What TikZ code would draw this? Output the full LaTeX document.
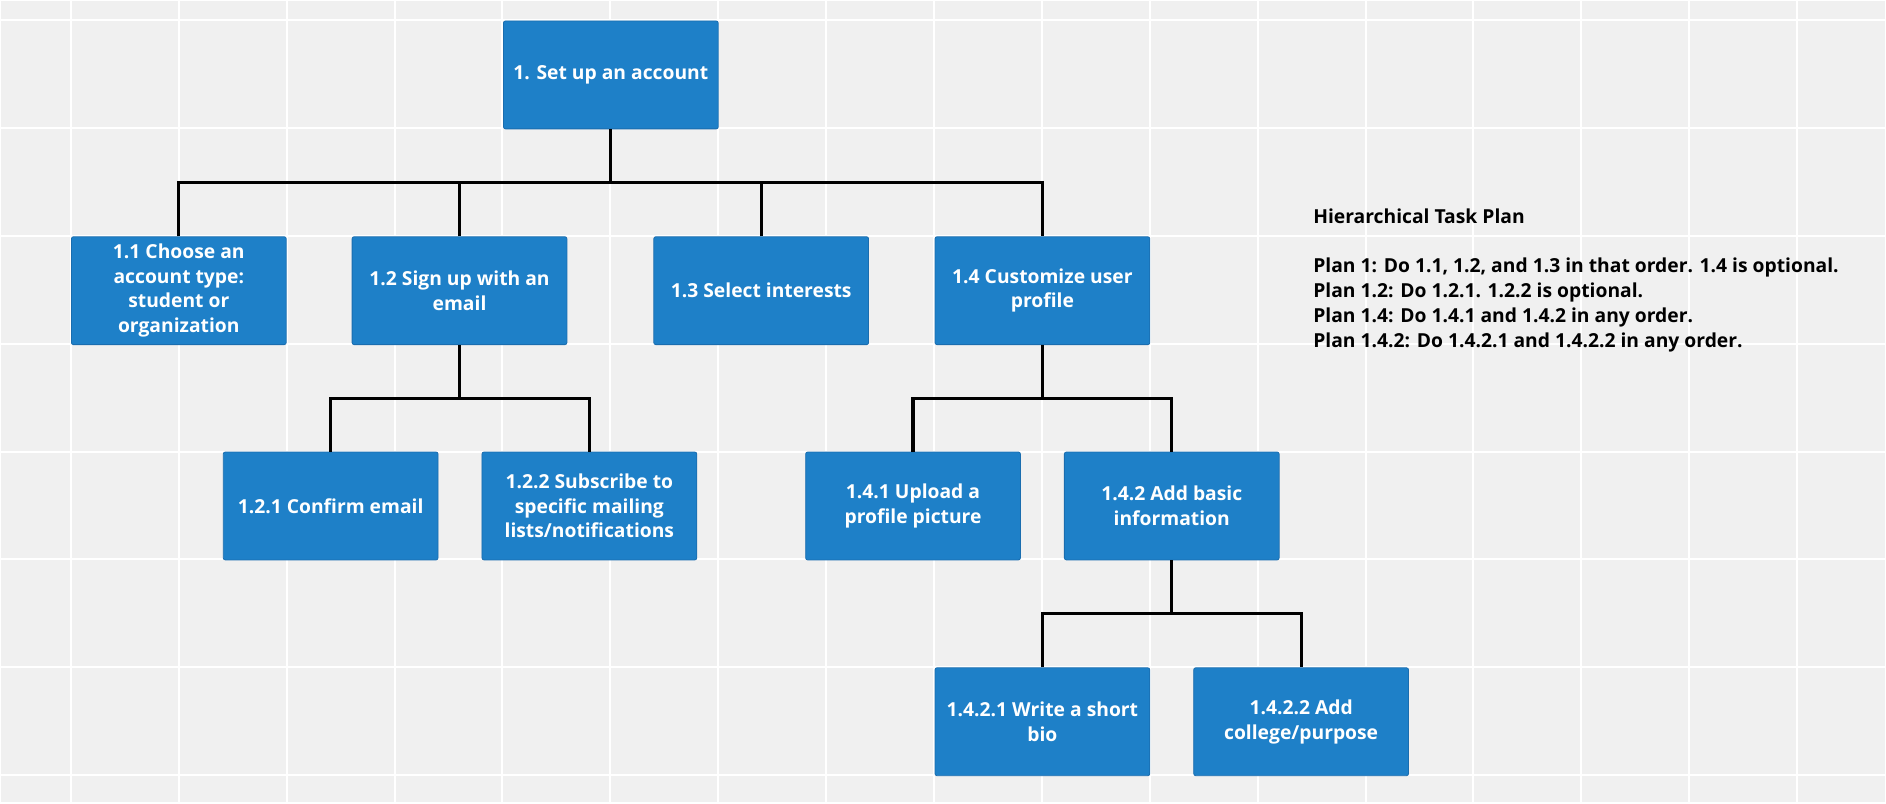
\documentclass[tikz,border=0pt]{standalone}
\usepackage{fontspec}
\setmainfont{Open Sans}
\usetikzlibrary{positioning,calc}

\definecolor{taskblue}{HTML}{1E80C8}
\definecolor{taskedge}{HTML}{1A6DAF}
\definecolor{canvas}{HTML}{F0F0F0}

\begin{document}
\begin{tikzpicture}[
  x=1pt, y=-1pt,
  font=\bfseries\fontsize{19.3}{24.6}\selectfont,
  task/.style={
    draw=taskedge,
    fill=taskblue,
    text=white,
    rounded corners=2pt,
    align=center,
    inner sep=0pt,
    minimum width=215pt,
    minimum height=108pt,
    line width=0.8pt
  },
  link/.style={line width=3.2pt, draw=black},
  gridline/.style={draw=white, line width=2pt},
  plan/.style={align=left, inner sep=0pt, text=black,
    font=\bfseries\fontsize{19.3}{25.2}\selectfont}
]
  % whiteboard background
  \fill[canvas] (0,0) rectangle (1886,802);
  \foreach \gx in {70,178,...,1798} \draw[gridline] (\gx,0) -- (\gx,802);
  \foreach \gy in {19,127,...,775} \draw[gridline] (0,\gy) -- (1886,\gy);
  \useasboundingbox (0,0) rectangle (1886,802);

  \node[task] (root) at (610.5,74) {1. Set up an account};

  \node[task] (n11) at (178,290) {1.1 Choose an\\account type:\\student or\\organization};
  \node[task] (n12) at (459,290) {1.2 Sign up with an\\email};
  \node[task] (n13) at (761,290) {1.3 Select interests};
  \node[task] (n14) at (1042.5,290) {1.4 Customize user\\profile};

  \node[task] (n121) at (330,505.5) {1.2.1 Confirm email};
  \node[task] (n122) at (589,505.5) {1.2.2 Subscribe to\\specific mailing\\lists/notifications};
  \node[task] (n141) at (913,505.5) {1.4.1 Upload a\\profile picture};
  \node[task] (n142) at (1172,505.5) {1.4.2 Add basic\\information};

  \node[task] (n1421) at (1042.5,721.5) {1.4.2.1 Write a short\\bio};
  \node[task] (n1422) at (1301.5,721.5) {1.4.2.2 Add\\college/purpose};

  \node[plan, anchor=north west] (plan) at (1313.5,207.5) {Hierarchical Task Plan\\[24pt]
    Plan 1: Do 1.1, 1.2, and 1.3 in that order. 1.4 is optional.\\
    Plan 1.2: Do 1.2.1. 1.2.2 is optional.\\
    Plan 1.4: Do 1.4.1 and 1.4.2 in any order.\\
    Plan 1.4.2: Do 1.4.2.1 and 1.4.2.2 in any order.};

  % forks halfway between parent and children
  \coordinate (fork1) at ($(root.south)!0.5!(root.south |- n11.north)$);
  \coordinate (fork12) at ($(n12.south)!0.5!(n12.south |- n121.north)$);
  \coordinate (fork14) at ($(n14.south)!0.5!(n14.south |- n141.north)$);
  \coordinate (fork142) at ($(n142.south)!0.5!(n142.south |- n1421.north)$);

  \draw[link] (root.south) -- (fork1);
  \draw[link] (n11.north) |- (fork1) -| (n14.north);
  \draw[link] (n12.north) -- (n12.north |- fork1);
  \draw[link] (n13.north) -- (n13.north |- fork1);

  \draw[link] (n12.south) -- (fork12);
  \draw[link] (n121.north) |- (fork12) -| (n122.north);

  \draw[link] (n14.south) -- (fork14);
  \draw[link] (n141.north) |- (fork14) -| (n142.north);

  \draw[link] (n142.south) -- (fork142);
  \draw[link] (n1421.north) |- (fork142) -| (n1422.north);
\end{tikzpicture}
\end{document}
